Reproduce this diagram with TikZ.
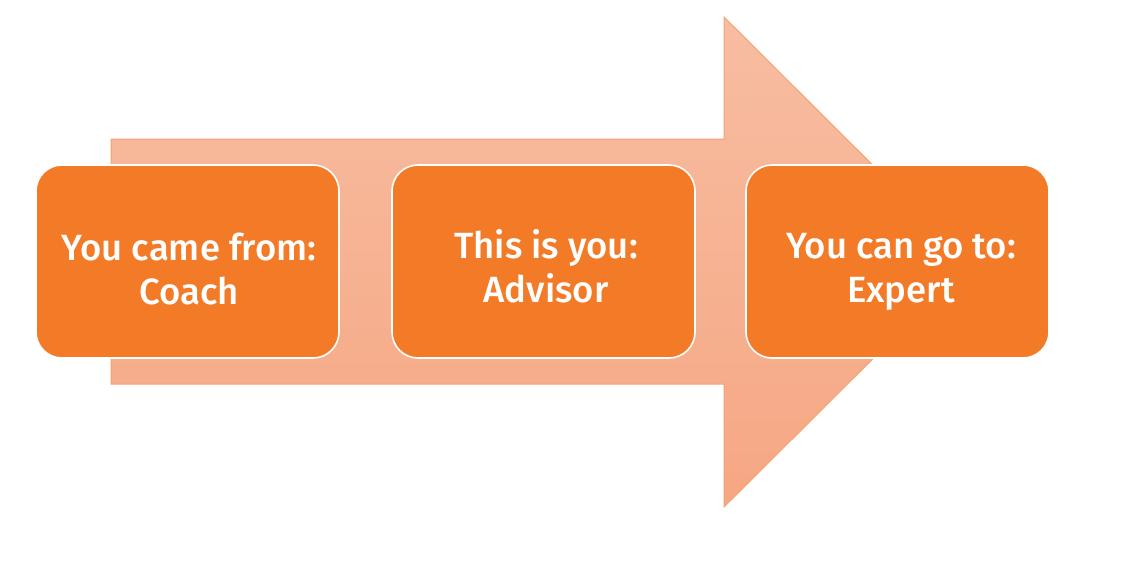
\documentclass[tikz,border=0pt]{standalone}
\usepackage{fontspec}
\setmainfont{Fira Sans}[UprightFont={* Medium}]
\definecolor{boxfill}{HTML}{F37B28}
\definecolor{arrtop}{HTML}{F7BDA2}
\definecolor{arrbot}{HTML}{F6A783}
\definecolor{arrline}{HTML}{F4A36E}
\begin{document}
\begin{tikzpicture}[x=1pt,y=-1pt,
  stage/.style={draw=white,line width=1.6pt,fill=boxfill,rounded corners=26pt,
    minimum width=303pt,minimum height=193pt,inner sep=0pt},
  stagetext/.style={inner sep=0pt,text=white,align=center,
    font=\fontsize{36.5}{44}\selectfont}]
\useasboundingbox (0,0) rectangle (1146,563);
\shade[top color=arrtop,bottom color=arrbot,draw=arrline,line width=1pt]
  (111,139) -- (724,139) -- (724,17) -- (970,262) -- (724,507) -- (724,384) -- (111,384) -- cycle;
\node[stage] (a) at (187.5,261.5) {};
\node[stage] (b) at (543.5,261.5) {};
\node[stage] (c) at (897.5,261.5) {};
\node[stagetext] (at) at (189,273.5) {\strut You came from:\\\strut Coach};
\node[stagetext] (bt) at (546,271.5) {\strut This is you:\\\strut Advisor};
\node[stagetext] (ct) at (901,271.5) {\strut You can go to:\\\strut Expert};
\end{tikzpicture}
\end{document}
